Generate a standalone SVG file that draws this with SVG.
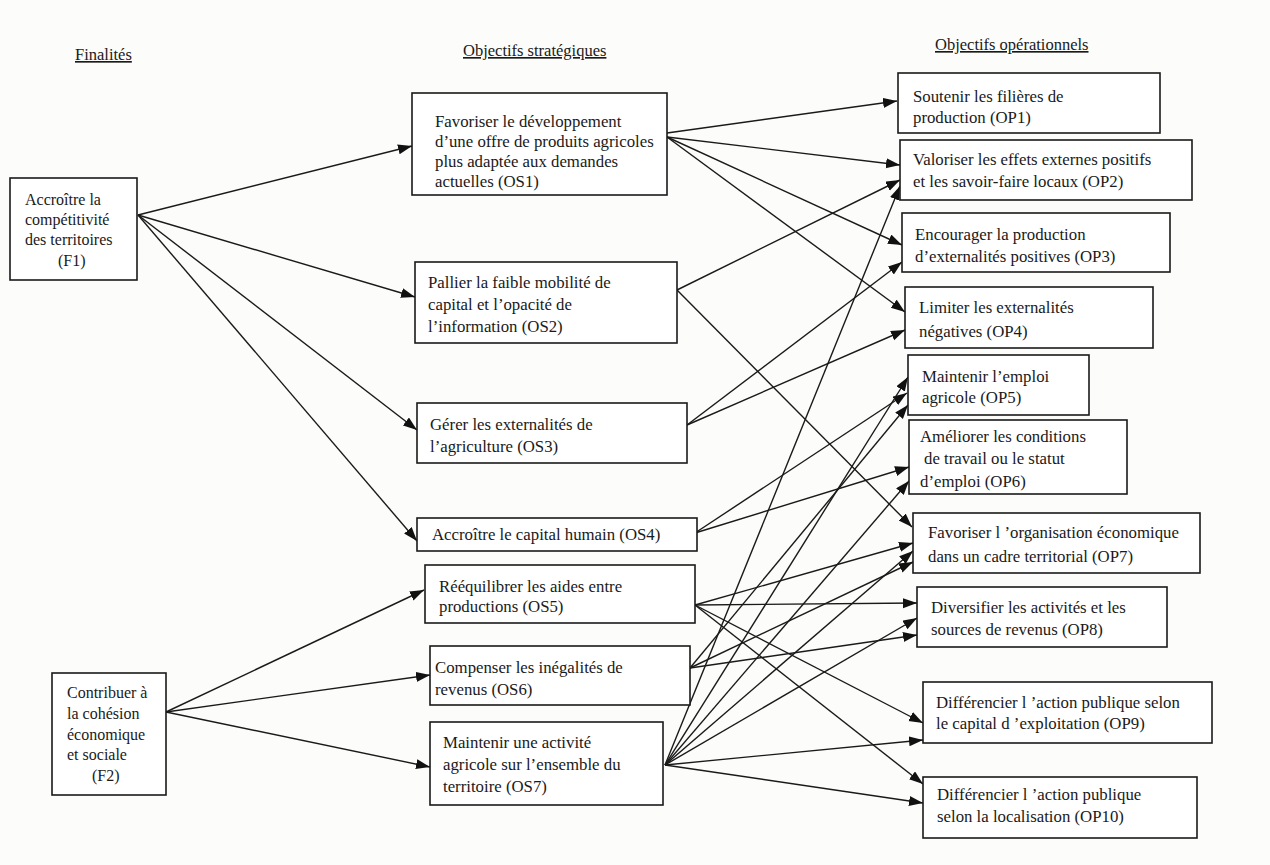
<svg xmlns="http://www.w3.org/2000/svg" width="1270" height="865" viewBox="0 0 1270 865">
<style>
text{font-family:"Liberation Serif","Times New Roman",serif;font-size:16.8px;fill:#1a1a1a}
.h{text-decoration:underline;font-size:16.5px}
.f{font-size:16px}
.box{fill:#fff;stroke:#1a1a1a;stroke-width:1.6}
.c line{stroke:#1a1a1a;stroke-width:1.4;marker-end:url(#ah)}
</style>
<defs>
<marker id="ah" markerUnits="userSpaceOnUse" markerWidth="15" markerHeight="11" refX="14" refY="5" orient="auto">
<path d="M0,0 L14,5 L0,10 z" fill="#111"/>
</marker>
</defs>
<rect width="1270" height="865" fill="#fcfcfa"/>
<g id="headers">
<text class="h" x="75" y="60">Finalités</text>
<text class="h" x="463" y="56">Objectifs stratégiques</text>
<text class="h" x="935" y="50">Objectifs opérationnels</text>
</g>
<g class="c" id="connectors">
<line x1="138" y1="215" x2="412" y2="146"/>
<line x1="138" y1="215" x2="415" y2="297"/>
<line x1="138" y1="215" x2="417" y2="430"/>
<line x1="138" y1="215" x2="417" y2="541"/>
<line x1="166" y1="712" x2="424" y2="590"/>
<line x1="166" y1="712" x2="430" y2="675"/>
<line x1="166" y1="712" x2="430" y2="767"/>
<line x1="667" y1="133" x2="897" y2="101"/>
<line x1="667" y1="137" x2="900" y2="165"/>
<line x1="667" y1="137" x2="902" y2="245"/>
<line x1="667" y1="137" x2="905" y2="312"/>
<line x1="677" y1="290" x2="900" y2="180"/>
<line x1="677" y1="290" x2="912" y2="527"/>
<line x1="687" y1="425" x2="902" y2="262"/>
<line x1="687" y1="425" x2="905" y2="330"/>
<line x1="695" y1="533" x2="907" y2="393"/>
<line x1="695" y1="533" x2="909" y2="467"/>
<line x1="695" y1="605" x2="913" y2="543"/>
<line x1="695" y1="605" x2="917" y2="603"/>
<line x1="695" y1="605" x2="923" y2="723"/>
<line x1="695" y1="605" x2="923" y2="784"/>
<line x1="690" y1="668" x2="908" y2="405"/>
<line x1="690" y1="668" x2="913" y2="562"/>
<line x1="690" y1="668" x2="917" y2="635"/>
<line x1="665" y1="765" x2="900" y2="186"/>
<line x1="665" y1="765" x2="908" y2="377"/>
<line x1="665" y1="765" x2="909" y2="481"/>
<line x1="665" y1="765" x2="913" y2="551"/>
<line x1="665" y1="765" x2="917" y2="618"/>
<line x1="665" y1="765" x2="923" y2="740"/>
<line x1="665" y1="765" x2="923" y2="803"/>
</g>
<g id="F1"><rect class="box" x="10" y="178" width="127" height="102"/>
<text class="f" x="25" y="205">Accroître la</text><text class="f" x="25" y="225">compétitivité</text><text class="f" x="25" y="245">des territoires</text><text class="f" x="58" y="266">(F1)</text></g>
<g id="F2"><rect class="box" x="52" y="673" width="114" height="122"/>
<text class="f" x="67" y="698">Contribuer à</text><text class="f" x="67" y="719">la cohésion</text><text class="f" x="67" y="740">économique</text><text class="f" x="67" y="760">et sociale</text><text class="f" x="92" y="781">(F2)</text></g>
<g id="OS1"><rect class="box" x="412" y="93" width="255" height="102"/>
<text x="435" y="127">Favoriser le développement</text><text x="435" y="147">d’une offre de produits agricoles</text><text x="435" y="167">plus adaptée aux demandes</text><text x="435" y="187">actuelles (OS1)</text></g>
<g id="OS2"><rect class="box" x="415" y="262" width="262" height="81"/>
<text x="428" y="288">Pallier la faible mobilité de</text><text x="428" y="310">capital et l’opacité de</text><text x="428" y="332">l’information (OS2)</text></g>
<g id="OS3"><rect class="box" x="417" y="403" width="270" height="60"/>
<text x="430" y="430">Gérer les externalités de</text><text x="430" y="452">l’agriculture (OS3)</text></g>
<g id="OS4"><rect class="box" x="417" y="518" width="280" height="33"/>
<text x="432" y="540">Accroître le capital humain (OS4)</text></g>
<g id="OS5"><rect class="box" x="425" y="565" width="270" height="58"/>
<text x="439" y="592">Rééquilibrer les aides entre</text><text x="439" y="612">productions (OS5)</text></g>
<g id="OS6"><rect class="box" x="430" y="646" width="260" height="59"/>
<text x="435" y="673">Compenser les inégalités de</text><text x="435" y="695">revenus (OS6)</text></g>
<g id="OS7"><rect class="box" x="430" y="722" width="233" height="83"/>
<text x="443" y="748">Maintenir une activité</text><text x="443" y="770">agricole sur l’ensemble du</text><text x="443" y="792">territoire (OS7)</text></g>
<g id="OP1"><rect class="box" x="898" y="73" width="262" height="60"/>
<text x="913" y="102">Soutenir les filières de</text><text x="913" y="123">production (OP1)</text></g>
<g id="OP2"><rect class="box" x="900" y="140" width="292" height="60"/>
<text x="913" y="165">Valoriser les effets externes positifs</text><text x="913" y="187">et les savoir-faire locaux (OP2)</text></g>
<g id="OP3"><rect class="box" x="902" y="213" width="268" height="59"/>
<text x="915" y="240">Encourager la production</text><text x="915" y="262">d’externalités positives (OP3)</text></g>
<g id="OP4"><rect class="box" x="905" y="287" width="248" height="61"/>
<text x="919" y="313">Limiter les externalités</text><text x="919" y="337">négatives (OP4)</text></g>
<g id="OP5"><rect class="box" x="908" y="355" width="181" height="60"/>
<text x="922" y="382">Maintenir l’emploi</text><text x="922" y="403">agricole (OP5)</text></g>
<g id="OP6"><rect class="box" x="909" y="420" width="218" height="74"/>
<text x="920" y="442">Améliorer les conditions</text><text x="924" y="464">de travail ou le statut</text><text x="920" y="487">d’emploi (OP6)</text></g>
<g id="OP7"><rect class="box" x="913" y="513" width="287" height="60"/>
<text x="928" y="538">Favoriser l ’organisation économique</text><text x="928" y="562">dans un cadre territorial (OP7)</text></g>
<g id="OP8"><rect class="box" x="917" y="587" width="250" height="60"/>
<text x="931" y="613">Diversifier les activités et les</text><text x="931" y="635">sources de revenus (OP8)</text></g>
<g id="OP9"><rect class="box" x="923" y="682" width="289" height="61"/>
<text x="936" y="708">Différencier l ’action publique selon</text><text x="936" y="729">le capital d ’exploitation (OP9)</text></g>
<g id="OP10"><rect class="box" x="923" y="777" width="274" height="61"/>
<text x="937" y="800">Différencier l ’action publique</text><text x="937" y="822">selon la localisation (OP10)</text></g>
</svg>
